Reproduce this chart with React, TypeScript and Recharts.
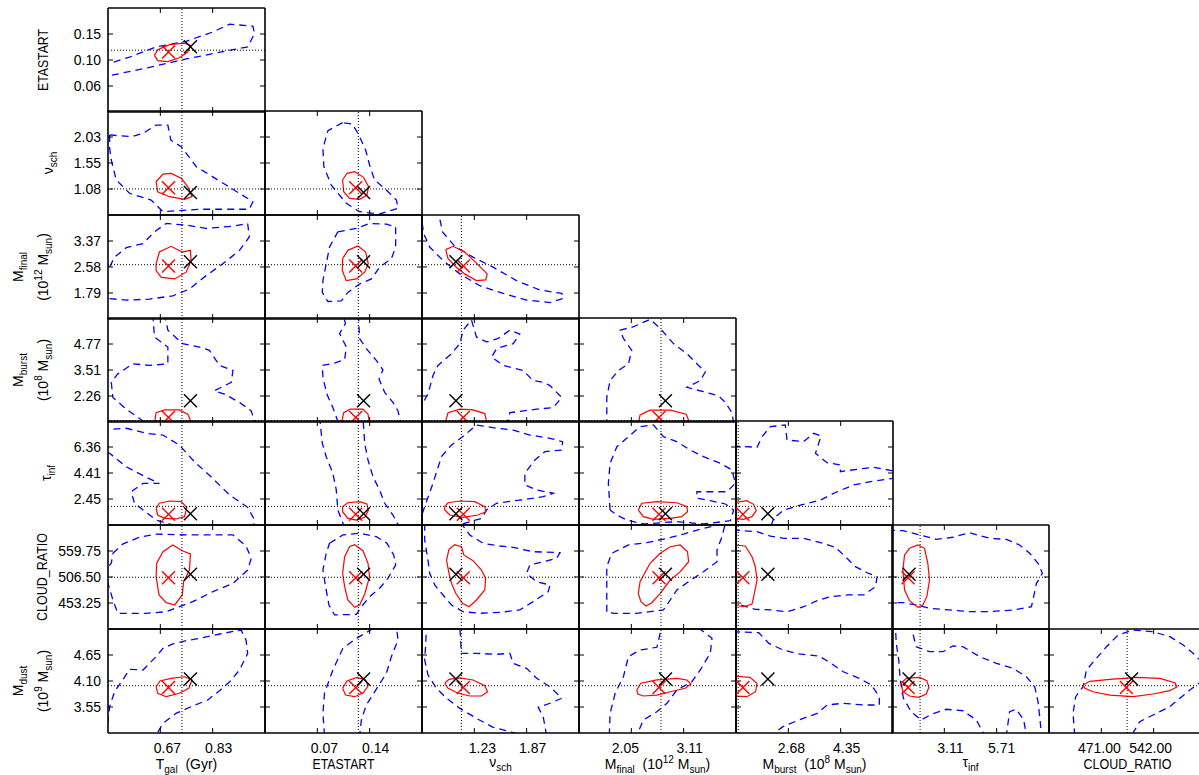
import React from "react";
import { ReferenceLine, Scatter, ScatterChart, XAxis, YAxis } from "recharts";

const FONT = '"Liberation Sans", Arial, Helvetica, sans-serif';

// parameter order: T_gal, ETASTART, nu_sch, M_final, M_burst, tau_inf, CLOUD_RATIO, M_dust
const axisMin = [0.51, 0.015, 0.595, 1.0, 1.0, 0.5, 400, 3.0];
const axisMax = [0.99, 0.195, 2.515, 4.16, 6.02, 8.32, 613, 5.2];

const xTickLabels = [
  ["0.67", "0.83"],
  ["0.07", "0.14"],
  ["1.23", "1.87"],
  ["2.05", "3.11"],
  ["2.68", "4.35"],
  ["3.11", "5.71"],
  ["471.00", "542.00"],
];
const xTickNudge = [[7, 6], [7, 6], [8, 6], [-6, 6], [3, 6], [6, 5], [-2, -3]];
const yTickLabels = [
  [],
  ["0.06", "0.10", "0.15"],
  ["1.08", "1.55", "2.03"],
  ["1.79", "2.58", "3.37"],
  ["2.26", "3.51", "4.77"],
  ["2.45", "4.41", "6.36"],
  ["453.25", "506.50", "559.75"],
  ["3.55", "4.10", "4.65"],
];

const truthValues = [0.736, 0.122, 1.076, 2.65, 1.07, 1.9, 506, 4.0];
const bestValues = [0.762, 0.128, 1.01, 2.74, 2.02, 1.35, 512, 4.14];
const peakValues = [0.695, 0.119, 1.1, 2.61, 1.22, 1.3, 505, 3.96];

// contours, [x, y] in axis units
const blueR1C1 = [[0.486,0.0744],[0.637,0.0924],[0.749,0.1068],[0.892,0.123],[0.937,0.1275],[0.958,0.1507],[0.953,0.1635],[0.882,0.167],[0.831,0.1536],[0.749,0.1374],[0.657,0.1275],[0.576,0.11],[0.486,0.0942]];
const redR1C1 = [[0.652,0.113],[0.662,0.1228],[0.698,0.1315],[0.744,0.1343],[0.762,0.1304],[0.754,0.1187],[0.728,0.1088],[0.693,0.1023],[0.662,0.104]];

const blueR2C1 = [[0.515,2.073],[0.581,2.041],[0.617,2.102],[0.657,2.256],[0.693,2.256],[0.702,1.977],[0.734,1.856],[0.78,1.486],[0.871,1.148],[0.953,0.841],[0.942,0.701],[0.79,0.701],[0.678,0.656],[0.642,0.871],[0.576,0.996],[0.535,1.242],[0.52,1.611],[0.515,1.824]];
const redR2C1 = [[0.657,1.209],[0.678,1.351],[0.703,1.363],[0.734,1.273],[0.754,1.117],[0.767,0.933],[0.744,0.885],[0.698,0.933],[0.662,1.025]];
const blueR2C2 = [[0.104,2.3],[0.0872,2.152],[0.0814,1.826],[0.0825,1.486],[0.091,1.148],[0.1082,0.81],[0.1235,0.656],[0.1464,0.614],[0.1675,0.718],[0.1657,0.871],[0.1541,1.056],[0.1406,1.242],[0.1349,1.519],[0.1304,1.795],[0.1226,2.071],[0.1151,2.275]];
const redR2C2 = [[0.104,1.242],[0.109,1.365],[0.1178,1.396],[0.128,1.29],[0.1338,1.117],[0.1318,0.964],[0.1235,0.885],[0.112,0.902],[0.1052,1.025]];

const blueR3C1 = [[0.499,2.264],[0.53,2.88],[0.566,3.168],[0.617,3.291],[0.652,3.648],[0.688,3.904],[0.749,3.853],[0.81,3.752],[0.892,3.822],[0.937,3.904],[0.942,3.493],[0.912,3.086],[0.861,2.678],[0.81,2.318],[0.759,1.91],[0.708,1.705],[0.637,1.604],[0.566,1.575],[0.499,1.632]];
const redR3C1 = [[0.657,2.678],[0.667,3.035],[0.703,3.209],[0.737,3.035],[0.762,3.086],[0.764,2.779],[0.749,2.422],[0.714,2.217],[0.673,2.264],[0.657,2.473]];
const blueR3C2 = [[0.0985,3.648],[0.1198,3.752],[0.1349,3.904],[0.1541,3.885],[0.1648,3.8],[0.1648,3.187],[0.1599,2.833],[0.1464,2.574],[0.1369,2.217],[0.1235,2.065],[0.11,1.806],[0.1025,1.553],[0.0872,1.531],[0.0807,1.806],[0.0814,2.166],[0.0852,2.678],[0.089,3.187]];
const redR3C2 = [[0.104,2.833],[0.11,3.086],[0.1216,3.218],[0.1304,3.035],[0.1334,2.678],[0.1293,2.422],[0.1198,2.217],[0.1082,2.166],[0.1036,2.473]];
const blueR3C3 = [[0.58,4.2],[0.8,4.2],[0.845,3.648],[0.996,3.209],[1.219,2.88],[1.465,2.574],[1.751,2.166],[2.037,1.882],[2.304,1.777],[2.331,1.635],[2.16,1.499],[1.874,1.575],[1.588,1.777],[1.302,2.011],[1.058,2.371],[0.852,2.779],[0.689,3.187],[0.616,3.598]];
const redR3C3 = [[0.885,3.108],[0.975,3.209],[1.117,3.035],[1.261,2.697],[1.392,2.371],[1.375,2.188],[1.261,2.166],[1.117,2.371],[1.015,2.574],[0.914,2.833]];

const blueR4C1 = [[0.647,6.2],[0.652,5.106],[0.693,4.619],[0.693,3.811],[0.637,3.731],[0.586,3.811],[0.54,3.324],[0.52,2.918],[0.525,2.185],[0.566,1.617],[0.617,1.05],[0.637,0.8],[0.963,0.8],[0.948,1.537],[0.912,1.944],[0.866,2.35],[0.835,2.506],[0.887,2.918],[0.892,3.485],[0.851,3.731],[0.82,4.459],[0.79,4.619],[0.738,4.785],[0.693,5.433],[0.683,6.2]];
const redR4C1 = [[0.652,0.9],[0.657,1.452],[0.683,1.582],[0.728,1.582],[0.754,1.377],[0.767,0.9]];
const blueR4C2 = [[0.122,6.2],[0.1235,5.031],[0.1311,4.544],[0.1426,3.972],[0.1502,3.52],[0.1457,3.078],[0.1522,2.431],[0.1617,1.944],[0.1675,1.537],[0.1714,0.8],[0.1005,0.8],[0.0928,1.698],[0.0859,2.35],[0.0814,3.159],[0.0807,3.731],[0.0947,3.841],[0.1063,4.007],[0.1082,4.619],[0.1005,5.272],[0.1073,5.764],[0.104,6.2]];
const redR4C2 = [[0.1025,0.9],[0.1052,1.452],[0.1127,1.617],[0.1273,1.617],[0.1331,1.377],[0.1349,0.9]];
const blueR4C3 = [[0.55,1.537],[0.668,2.35],[0.729,3.244],[0.791,3.731],[0.956,4.298],[1.058,4.785],[1.098,5.433],[1.2,5.925],[1.261,5.106],[1.384,4.865],[1.526,5.031],[1.67,5.433],[1.791,5.242],[1.71,4.785],[1.507,4.544],[1.446,4.132],[1.588,3.731],[1.833,3.485],[1.954,2.998],[2.077,2.918],[2.16,2.757],[2.304,2.185],[2.2,1.698],[1.997,1.617],[1.67,1.452],[1.63,0.8],[0.55,0.8]];
const redR4C3 = [[0.873,0.9],[0.914,1.452],[1.058,1.617],[1.219,1.582],[1.363,1.407],[1.392,0.9]];
const blueR4C4 = [[1.559,0.8],[1.559,2.185],[1.626,2.998],[1.793,3.485],[1.995,3.811],[2.062,4.459],[1.894,5.031],[1.828,5.433],[2.097,5.598],[2.431,5.955],[2.634,5.518],[2.902,4.785],[3.171,4.298],[3.373,3.811],[3.541,3.405],[3.44,2.998],[3.171,2.672],[3.506,2.461],[3.809,2.265],[3.945,1.944],[4.078,1.452],[4.125,0.8]];
const redR4C4 = [[2.194,0.9],[2.229,1.341],[2.431,1.572],[2.836,1.572],[3.158,1.377],[3.237,0.9]];

const blueR5C1 = [[0.49,7.64],[0.566,7.773],[0.627,7.397],[0.678,7.264],[0.728,6.514],[0.774,5.262],[0.825,4.128],[0.882,2.752],[0.937,1.829],[0.958,0.875],[0.953,0.2],[0.749,0.2],[0.657,0.875],[0.591,2.134],[0.581,3.002],[0.617,3.628],[0.667,3.628],[0.627,4.082],[0.566,4.879],[0.515,5.888],[0.49,6.13]];
const redR5C1 = [[0.657,1.751],[0.667,2.134],[0.698,2.306],[0.734,2.252],[0.751,1.829],[0.744,1.126],[0.718,0.954],[0.683,1.0],[0.662,1.251]];
const blueR5C2 = [[0.0776,8.6],[0.1273,8.6],[0.1293,6.647],[0.1331,5.388],[0.1388,4.128],[0.1464,3.135],[0.1522,2.134],[0.1617,1.251],[0.1694,0.3],[0.1063,0.3],[0.0985,1.626],[0.0967,3.135],[0.0928,4.387],[0.0852,5.638],[0.0807,6.647]];
const redR5C2 = [[0.104,1.876],[0.11,2.173],[0.1235,2.252],[0.1318,2.08],[0.1334,1.579],[0.1293,1.079],[0.1198,0.875],[0.11,1.0],[0.104,1.501]];
const blueR5C3 = [[0.55,0.5],[0.628,1.876],[0.729,3.636],[0.833,5.638],[0.956,6.514],[1.117,7.264],[1.261,8.023],[1.507,7.773],[1.71,7.64],[1.914,7.264],[2.16,7.022],[2.315,6.764],[2.304,6.138],[2.098,6.013],[1.975,5.388],[1.853,4.387],[1.853,3.511],[1.997,3.135],[2.2,2.885],[2.077,2.627],[1.791,2.377],[1.507,2.134],[1.384,1.626],[1.323,1.0],[0.935,0.3],[0.55,0.3]];
const redR5C3 = [[0.873,1.876],[0.914,2.173],[1.058,2.306],[1.24,2.252],[1.363,1.876],[1.376,1.501],[1.28,1.251],[1.098,1.079],[0.935,1.251],[0.873,1.626]];
const blueR5C4 = [[1.626,1.626],[1.591,3.636],[1.626,5.137],[1.762,6.388],[1.995,7.139],[2.229,7.89],[2.498,8.023],[2.7,7.139],[2.969,6.764],[3.237,6.138],[3.506,5.638],[3.844,5.137],[4.078,4.637],[4.147,3.636],[3.98,3.002],[3.642,3.002],[3.373,3.002],[3.373,2.51],[3.642,2.33],[3.945,2.08],[4.113,1.626],[4.046,0.821],[3.506,0.578],[2.969,0.75],[2.296,0.578],[1.961,0.875],[1.762,1.251]];
const redR5C4 = [[2.194,1.626],[2.264,2.134],[2.567,2.252],[2.969,2.173],[3.171,1.876],[3.184,1.501],[3.07,1.126],[2.836,1.0],[2.498,0.93],[2.296,1.126]];
const blueR5C5 = [[0.9,6.443],[1.673,6.342],[1.833,7.139],[2.099,7.89],[2.576,8.023],[2.632,6.889],[3.164,6.764],[3.485,7.397],[3.721,7.194],[3.54,5.888],[3.912,5.184],[4.338,5.012],[4.338,4.512],[4.875,4.692],[5.408,4.84],[5.995,4.582],[6.045,4.011],[5.302,3.761],[4.765,3.511],[4.233,3.002],[3.701,2.377],[3.058,2.001],[2.526,1.626],[2.205,1.0],[2.099,0.3],[0.9,0.3]];
const redR5C5 = [[0.9,2.173],[1.351,2.33],[1.562,2.056],[1.648,1.579],[1.512,1.126],[1.241,0.93],[0.9,1.0]];

const blueR6C1 = [[0.525,555.1],[0.555,574],[0.606,587.9],[0.657,594.5],[0.749,592.6],[0.841,592.6],[0.892,592.6],[0.932,570],[0.948,544.8],[0.937,520.8],[0.892,493.5],[0.831,476.5],[0.769,456],[0.688,435.4],[0.627,432.2],[0.54,432.2],[0.525,459.4],[0.51,493.5],[0.502,520.8],[0.52,534.6]];
const redR6C1 = [[0.657,507.1],[0.659,534.6],[0.678,558.3],[0.708,572.1],[0.737,560.4],[0.762,553.6],[0.759,520.8],[0.741,496.9],[0.737,469.7],[0.714,449.2],[0.688,453.9],[0.666,469.7]];
const blueR6C2 = [[0.089,575.5],[0.1043,592.6],[0.1235,596],[0.1426,589.1],[0.1549,575.5],[0.1626,551.7],[0.1648,531],[0.1559,503.7],[0.1464,483.3],[0.1349,466.2],[0.1255,445.6],[0.1198,430],[0.0947,428.8],[0.0883,449.2],[0.0845,486.7],[0.0814,520.8],[0.0852,555.1]];
const redR6C2 = [[0.104,514],[0.1063,548],[0.112,568.5],[0.1178,572.7],[0.1273,560.4],[0.1331,534.6],[0.1349,507.1],[0.1293,471.8],[0.1235,449.2],[0.1178,444.3],[0.11,459.4],[0.1063,486.7]];
const blueR6C3 = [[0.628,620],[1.058,620],[1.179,592.6],[1.342,575.5],[1.547,570],[1.71,567.2],[1.954,558.3],[2.283,556.3],[2.242,544.8],[2.077,537.8],[1.914,531],[1.874,514],[1.997,496.9],[2.16,490.1],[2.139,476.5],[1.954,456],[1.791,439],[1.547,434.1],[1.302,432.2],[1.098,435.4],[0.956,449.2],[0.852,469.7],[0.751,490.1],[0.689,514],[0.668,541.2],[0.628,582.3]];
const redR6C3 = [[0.895,541.2],[0.925,563.2],[0.996,572.7],[1.077,568.5],[1.106,551.7],[1.219,539.9],[1.323,520.8],[1.373,503.7],[1.363,479.9],[1.261,459.4],[1.171,445.6],[1.09,452.6],[1.008,473.1],[0.956,493.5],[0.925,514]];
const blueR6C4 = [[1.559,435.4],[1.559,479.9],[1.559,527.6],[1.66,555.1],[1.995,572.1],[2.365,576.8],[2.77,585.7],[3.105,594.5],[3.506,606.2],[3.945,616.4],[3.879,589.1],[3.778,561.9],[3.778,537.8],[3.506,517.4],[3.206,496.9],[2.969,479.9],[2.836,459.4],[2.7,439],[2.163,432.2],[1.692,432.2]];
const redR6C4 = [[2.194,473.1],[2.229,496.9],[2.431,534.6],[2.634,555.1],[2.836,568.5],[3.038,572.1],[3.184,558.3],[3.206,537.8],[3.038,517.4],[2.836,500.3],[2.634,473.1],[2.466,453.9],[2.352,447.1],[2.245,456]];
const blueR6C5 = [[0.9,602.8],[1.673,599.4],[2.099,590.4],[2.526,585.7],[3.164,585.7],[3.701,576.8],[4.178,567.2],[4.499,548],[4.82,527.6],[5.192,515.2],[5.513,507.1],[5.458,486.7],[5.086,469.7],[4.554,469.7],[4.017,466.2],[3.595,457.9],[3.164,445.6],[2.632,435.4],[2.099,439],[1.617,440.3],[1.136,449.2],[0.9,449.2]];
const redR6C5 = [[0.9,572.1],[1.296,570],[1.512,548],[1.617,527.6],[1.673,500.3],[1.587,473.1],[1.512,451.1],[1.241,445.6],[0.9,449.2]];
const blueR6C6 = [[0.3,602.8],[1.04,601.3],[1.869,592.6],[2.705,583.6],[3.534,587.9],[4.363,597.2],[5.364,585.7],[6.193,583.6],[6.858,572.1],[7.358,555.1],[7.773,534.6],[7.992,514],[7.694,493.5],[7.554,466.2],[7.444,445.6],[6.521,439],[5.364,435.4],[4.363,435.4],[3.37,439],[2.369,442.4],[1.704,449.2],[1.04,453.9],[0.3,453.9]];
const redR6C6 = [[1.04,520.8],[1.126,551.7],[1.376,565.3],[1.79,572.1],[2.119,565.3],[2.283,534.6],[2.369,500.3],[2.236,466.2],[2.033,449.2],[1.79,444.3],[1.376,457.9],[1.126,479.9]];

const blueR7C1 = [[0.505,2.95],[0.515,3.557],[0.53,3.873],[0.555,4.122],[0.576,4.346],[0.617,4.333],[0.657,4.615],[0.678,4.791],[0.708,4.883],[0.749,4.954],[0.79,5.002],[0.851,5.094],[0.917,5.178],[0.932,4.967],[0.937,4.685],[0.912,4.333],[0.882,4.085],[0.851,3.895],[0.815,3.697],[0.769,3.572],[0.718,3.416],[0.678,3.205],[0.657,2.95]];
const redR7C1 = [[0.657,3.979],[0.669,4.1],[0.703,4.157],[0.744,4.19],[0.767,4.122],[0.757,3.946],[0.728,3.84],[0.688,3.768],[0.662,3.84]];
const blueR7C2 = [[0.0832,2.95],[0.0814,3.416],[0.0832,3.84],[0.0928,4.333],[0.1043,4.791],[0.1198,5.002],[0.1426,5.25],[0.1657,5.25],[0.1675,4.967],[0.1599,4.615],[0.1541,4.263],[0.1444,3.979],[0.1311,3.592],[0.1255,3.275],[0.1235,2.95]];
const redR7C2 = [[0.104,3.946],[0.109,4.1],[0.1203,4.177],[0.1304,4.122],[0.1331,3.994],[0.128,3.854],[0.1178,3.768],[0.1073,3.803]];
const blueR7C3 = [[0.649,5.25],[1.058,5.25],[1.077,4.685],[1.261,4.685],[1.507,4.665],[1.67,4.685],[1.71,4.474],[1.874,4.368],[1.997,4.157],[2.16,3.979],[2.304,3.735],[2.16,3.629],[2.016,3.543],[2.077,3.345],[2.119,2.95],[1.833,2.95],[1.465,3.121],[1.261,3.31],[1.058,3.521],[0.895,3.735],[0.772,3.946],[0.668,4.228],[0.628,4.544],[0.641,4.899]];
const redR7C3 = [[0.873,4.052],[0.925,4.135],[1.058,4.164],[1.219,4.122],[1.363,4.001],[1.396,3.873],[1.323,3.783],[1.179,3.783],[1.037,3.84],[0.914,3.946]];
const blueR7C4 = [[1.61,2.95],[1.626,3.416],[1.727,3.84],[1.894,4.19],[1.995,4.615],[2.229,4.756],[2.567,4.813],[2.634,5.11],[2.77,5.25],[3.373,5.25],[3.677,5.002],[3.642,4.685],[3.44,4.333],[3.272,4.085],[2.969,3.909],[2.77,3.629],[2.567,3.451],[2.296,3.275],[2.163,2.95]];
const redR7C4 = [[2.163,3.909],[2.245,4.052],[2.567,4.122],[2.969,4.157],[3.171,4.122],[3.253,4.036],[3.136,3.946],[2.836,3.873],[2.567,3.803],[2.296,3.783],[2.185,3.825]];
const blueR7C5 = [[0.9,5.143],[1.728,5.121],[2.054,4.896],[2.501,4.756],[3.013,4.672],[3.656,4.628],[4.042,4.474],[4.429,4.296],[4.941,4.157],[5.327,4.016],[5.583,3.768],[5.583,3.592],[5.071,3.592],[4.429,3.629],[3.912,3.592],[3.595,3.416],[3.013,3.275],[2.501,3.134],[2.119,2.95],[0.9,2.95]];
const redR7C5 = [[0.9,4.206],[1.447,4.177],[1.668,4.052],[1.628,3.873],[1.346,3.768],[0.9,3.783]];
const blueR7C6 = [[0.672,5.25],[1.454,5.25],[1.704,4.826],[2.369,4.72],[3.034,4.72],[3.534,4.841],[4.035,4.826],[4.864,4.615],[5.7,4.474],[6.521,4.368],[7.194,4.19],[7.608,3.979],[7.773,3.662],[7.859,3.345],[7.945,2.95],[7.194,2.95],[7.061,3.275],[6.693,3.502],[6.357,3.451],[6.193,2.95],[5.114,2.95],[4.699,3.275],[4.035,3.471],[3.206,3.502],[2.455,3.396],[1.955,3.275],[1.454,3.451],[1.071,3.735],[0.907,4.122],[0.836,4.544],[0.711,4.899]];
const redR7C6 = [[0.961,4.052],[1.212,4.157],[1.869,4.177],[2.236,4.107],[2.338,3.966],[2.205,3.825],[1.837,3.755],[1.376,3.783],[1.04,3.873]];
const blueR7C7 = [[434.9,2.95],[432.6,3.416],[436.2,3.768],[446.2,3.979],[450.9,4.333],[464.3,4.58],[478,4.826],[493.7,5.072],[514.2,5.178],[541.2,5.143],[564,5.037],[582.1,4.861],[595.5,4.685],[609.2,4.474],[609.2,4.122],[591.1,3.909],[577.6,3.735],[564,3.557],[541.2,3.381],[523.1,3.24],[512,2.95]];
const redR7C7 = [[446.2,4.016],[455.4,4.093],[482.4,4.135],[518.6,4.177],[550.4,4.157],[570.8,4.065],[573.8,3.979],[564,3.895],[541.2,3.825],[514.2,3.768],[482.4,3.803],[459.9,3.873],[448.6,3.946]];

const PANELS = [
  { row: 0, col: 0, blue: blueR1C1, red: redR1C1 },
  { row: 1, col: 0, blue: blueR2C1, red: redR2C1 },
  { row: 1, col: 1, blue: blueR2C2, red: redR2C2 },
  { row: 2, col: 0, blue: blueR3C1, red: redR3C1 },
  { row: 2, col: 1, blue: blueR3C2, red: redR3C2 },
  { row: 2, col: 2, blue: blueR3C3, red: redR3C3 },
  { row: 3, col: 0, blue: blueR4C1, red: redR4C1 },
  { row: 3, col: 1, blue: blueR4C2, red: redR4C2 },
  { row: 3, col: 2, blue: blueR4C3, red: redR4C3 },
  { row: 3, col: 3, blue: blueR4C4, red: redR4C4 },
  { row: 4, col: 0, blue: blueR5C1, red: redR5C1 },
  { row: 4, col: 1, blue: blueR5C2, red: redR5C2 },
  { row: 4, col: 2, blue: blueR5C3, red: redR5C3 },
  { row: 4, col: 3, blue: blueR5C4, red: redR5C4 },
  { row: 4, col: 4, blue: blueR5C5, red: redR5C5 },
  { row: 5, col: 0, blue: blueR6C1, red: redR6C1 },
  { row: 5, col: 1, blue: blueR6C2, red: redR6C2 },
  { row: 5, col: 2, blue: blueR6C3, red: redR6C3 },
  { row: 5, col: 3, blue: blueR6C4, red: redR6C4 },
  { row: 5, col: 4, blue: blueR6C5, red: redR6C5 },
  { row: 5, col: 5, blue: blueR6C6, red: redR6C6 },
  { row: 6, col: 0, blue: blueR7C1, red: redR7C1 },
  { row: 6, col: 1, blue: blueR7C2, red: redR7C2 },
  { row: 6, col: 2, blue: blueR7C3, red: redR7C3 },
  { row: 6, col: 3, blue: blueR7C4, red: redR7C4 },
  { row: 6, col: 4, blue: blueR7C5, red: redR7C5 },
  { row: 6, col: 5, blue: blueR7C6, red: redR7C6 },
  { row: 6, col: 6, blue: blueR7C7, red: redR7C7 },
];

// axis titles: [text, "n" | "sub" | "sup"]
const X_TITLES = [
  [["T", "n"], ["gal", "sub"], ["  (Gyr)", "n"]],
  [["ETASTART", "n"]],
  [["\u03bd", "n"], ["sch", "sub"]],
  [["M", "n"], ["final", "sub"], ["  (10", "n"], ["12", "sup"], [" M", "n"], ["sun", "sub"], [")", "n"]],
  [["M", "n"], ["burst", "sub"], ["  (10", "n"], ["8", "sup"], [" M", "n"], ["sun", "sub"], [")", "n"]],
  [["\u03c4", "n"], ["inf", "sub"]],
  [["CLOUD_RATIO", "n"]],
];
const Y_TITLES = [
  [[["ETASTART", "n"]]],
  [[["\u03bd", "n"], ["sch", "sub"]]],
  [[["M", "n"], ["final", "sub"]], [["(10", "n"], ["12", "sup"], [" M", "n"], ["sun", "sub"], [")", "n"]]],
  [[["M", "n"], ["burst", "sub"]], [["(10", "n"], ["8", "sup"], [" M", "n"], ["sun", "sub"], [")", "n"]]],
  [[["\u03c4", "n"], ["inf", "sub"]]],
  [[["CLOUD_RATIO", "n"]]],
  [[["M", "n"], ["dust", "sub"]], [["(10", "n"], ["9", "sup"], [" M", "n"], ["sun", "sub"], [")", "n"]]],
];
const CAPS_WIDTH: Record<string, number> = { ETASTART: 62, CLOUD_RATIO: 88 };

const COL_X = [108, 265, 422, 579, 736, 892, 1049];
const ROW_Y = [8, 111, 215, 318, 421, 525, 629];
const PW = 157;
const PH = 104;

const BLUE = "#0000ff";
const RED = "#ff0000";

const closeLoop = (pts: number[][]) => [...pts, pts[0]].map(([x, y]) => ({ x, y }));
const noDot = () => <g />;
const crossShape = (color: string) => (p: any) => {
  const { cx, cy } = p;
  const s = 6.5;
  return (
    <g>
      <line x1={cx - s} y1={cy - s} x2={cx + s} y2={cy + s} stroke={color} strokeWidth={1.4} />
      <line x1={cx - s} y1={cy + s} x2={cx + s} y2={cy - s} stroke={color} strokeWidth={1.4} />
    </g>
  );
};

function renderParts(parts: string[][], size = 14, subSize = 10) {
  let level = 0;
  return parts.map(([t, kind], i) => {
    const target = kind === "sub" ? 4 : kind === "sup" ? -6 : 0;
    const dy = target - level;
    level = target;
    const w = CAPS_WIDTH[t];
    return (
      <tspan
        key={i}
        dy={dy}
        fontSize={kind === "n" ? size : subSize}
        textLength={w}
        lengthAdjust={w ? "spacingAndGlyphs" : undefined}
      >
        {t}
      </tspan>
    );
  });
}

function Panel({ row, col, blue, red }: { row: number; col: number; blue: number[][]; red: number[][] }) {
  const xi = col;
  const yi = row + 1;
  const onLeft = col === 0;
  const onBottom = row === 6;
  const L = onLeft ? 70 : 0;
  const B = onBottom ? 30 : 0;
  const M = 2;
  const xDom = [axisMin[xi], axisMax[xi]];
  const yDom = [axisMin[yi], axisMax[yi]];
  const xSpan = xDom[1] - xDom[0];
  const ySpan = yDom[1] - yDom[0];
  const xTicks = [xDom[0] + xSpan / 3, xDom[0] + (2 * xSpan) / 3];
  const yTicks = [1, 2, 3].map((k) => yDom[0] + (k * ySpan) / 4);
  const tickDx = (5 / PW) * xSpan;
  const tickDy = (5 / PH) * ySpan;

  const xTick = (p: any) => {
    const i = xTicks.findIndex((t) => Math.abs(t - p.payload.value) < 1e-9);
    return (
      <text x={p.x + xTickNudge[xi][i]} y={p.y} dy="0.71em" textAnchor="middle" fontSize={14} fontFamily={FONT} fill="#000">
        {xTickLabels[xi][i]}
      </text>
    );
  };
  const yTick = (p: any) => {
    const i = yTicks.findIndex((t) => Math.abs(t - p.payload.value) < 1e-9);
    return (
      <text x={p.x} y={p.y} dy="0.355em" textAnchor="end" fontSize={14} fontFamily={FONT} fill="#000">
        {yTickLabels[yi][i]}
      </text>
    );
  };

  const frame = { stroke: "#000", strokeWidth: 1.6, ifOverflow: "visible" as const };
  const tk = { stroke: "#000", strokeWidth: 1, ifOverflow: "visible" as const };

  return (
    <>
      {/* contour layer, clipped to the panel */}
      <div style={{ position: "absolute", left: COL_X[col], top: ROW_Y[row], width: PW, height: PH, overflow: "hidden" }}>
        <ScatterChart width={PW} height={PH} margin={{ top: 0, right: 0, bottom: 0, left: 0 }}>
          <XAxis type="number" dataKey="x" domain={xDom} allowDataOverflow hide />
          <YAxis type="number" dataKey="y" domain={yDom} allowDataOverflow hide />
          <Scatter data={closeLoop(blue)} shape={noDot} isAnimationActive={false}
            line={{ stroke: BLUE, strokeWidth: 1.3, strokeDasharray: "7 5" }} />
          <Scatter data={closeLoop(red)} shape={noDot} isAnimationActive={false}
            line={{ stroke: RED, strokeWidth: 1.2 }} />
        </ScatterChart>
      </div>
      {/* frame, ticks, labels, reference lines and markers */}
      <div style={{ position: "absolute", left: COL_X[col] - L - M, top: ROW_Y[row] - M }}>
        <ScatterChart width={M + L + PW + M} height={M + PH + B + M} margin={{ top: M, right: M, bottom: M, left: M }}>
          <XAxis type="number" dataKey="x" domain={xDom} allowDataOverflow ticks={xTicks} interval={0}
            hide={!onBottom} height={B} tickSize={-5} tickMargin={15} tick={xTick} axisLine={false} tickLine={false} />
          <YAxis type="number" dataKey="y" domain={yDom} allowDataOverflow ticks={yTicks} interval={0}
            hide={!onLeft} width={L} tickSize={-5} tickMargin={12} tick={yTick} axisLine={false} tickLine={false} />
          <ReferenceLine x={truthValues[xi]} stroke="#000" strokeWidth={1} strokeDasharray="1 2" />
          <ReferenceLine y={truthValues[yi]} stroke="#000" strokeWidth={1} strokeDasharray="1 2" />
          {xTicks.map((t) => (
            <ReferenceLine key={`bt${t}`} segment={[{ x: t, y: yDom[0] }, { x: t, y: yDom[0] + tickDy }]} {...tk} />
          ))}
          {xTicks.map((t) => (
            <ReferenceLine key={`tt${t}`} segment={[{ x: t, y: yDom[1] }, { x: t, y: yDom[1] - tickDy }]} {...tk} />
          ))}
          {yTicks.map((t) => (
            <ReferenceLine key={`lt${t}`} segment={[{ x: xDom[0], y: t }, { x: xDom[0] + tickDx, y: t }]} {...tk} />
          ))}
          {yTicks.map((t) => (
            <ReferenceLine key={`rt${t}`} segment={[{ x: xDom[1], y: t }, { x: xDom[1] - tickDx, y: t }]} {...tk} />
          ))}
          <ReferenceLine x={xDom[0]} {...frame} />
          <ReferenceLine x={xDom[1]} {...frame} />
          <ReferenceLine y={yDom[0]} {...frame} />
          <ReferenceLine y={yDom[1]} {...frame} />
          <Scatter data={[{ x: peakValues[xi], y: peakValues[yi] }]} shape={crossShape(RED)} isAnimationActive={false} />
          <Scatter data={[{ x: bestValues[xi], y: bestValues[yi] }]} shape={crossShape("#000")} isAnimationActive={false} />
        </ScatterChart>
      </div>
    </>
  );
}

export default function App() {
  const xTitleBase = [769, 769, 767, 769, 769, 767, 769];
  const yTitleBase = [48, 53, 48, 48, 51, 47, 48];
  return (
    <div style={{ position: "absolute", left: 0, top: 0, width: 1199, height: 775, overflow: "hidden", background: "#fff" }}>
      <svg width={1199} height={775} style={{ position: "absolute", left: 0, top: 0 }}>
        {X_TITLES.map((parts, c) => (
          <text key={`xt${c}`} x={COL_X[c] + PW / 2} y={xTitleBase[c]} textAnchor="middle" fontFamily={FONT} fill="#000" style={{ whiteSpace: "pre" }}>
            {renderParts(parts)}
          </text>
        ))}
        {Y_TITLES.map((lines, r) => {
          const cy = ROW_Y[r] + PH / 2;
          return lines.map((parts, li) => {
            const bx = lines.length === 2 ? (li === 0 ? 23 : 48) : yTitleBase[r];
            return (
              <text key={`yt${r}-${li}`} x={0} y={0} transform={`translate(${bx},${cy}) rotate(-90)`} textAnchor="middle"
                fontFamily={FONT} fill="#000" style={{ whiteSpace: "pre" }}>
                {renderParts(parts)}
              </text>
            );
          });
        })}
      </svg>
      {PANELS.map((p) => (
        <Panel key={`${p.row}-${p.col}`} {...p} />
      ))}
    </div>
  );
}
